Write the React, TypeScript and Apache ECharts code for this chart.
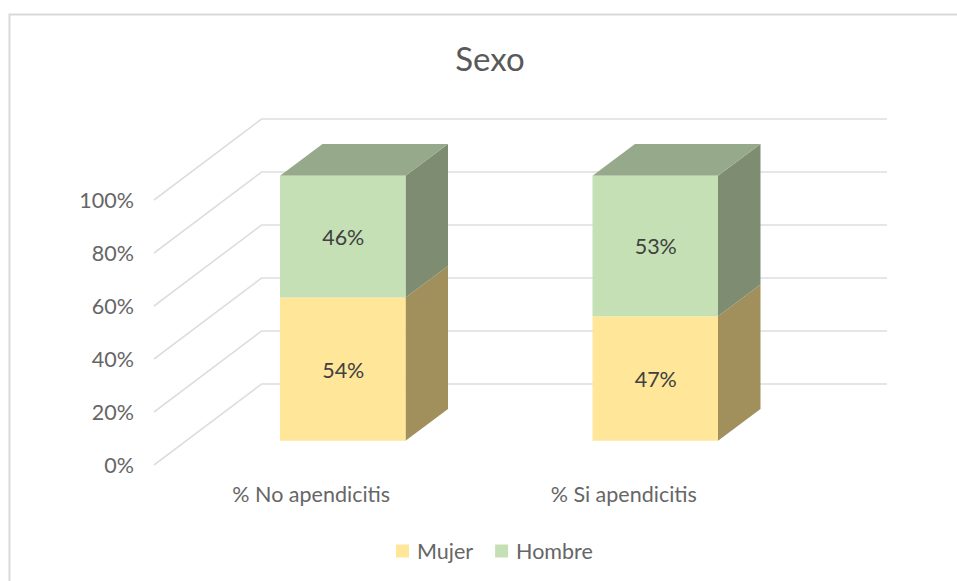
import React, { useEffect, useRef } from "react";
import * as echarts from "echarts";

const FONT = "Lato";
const categories = ["% No apendicitis", "% Si apendicitis"];
const mujer = [54, 47];
const hombre = [46, 53];
const yTicks = [0, 20, 40, 60, 80, 100];

const wallDx = 107.5;
const wallDy = 81;
const wallRight = 887;
const barW = 125.5;
const barShift = 31.5;
const barLift = 24.3;
const depthX = 42.5;
const depthY = 31.7;
const FS = 21.5;

function prismItem(values: number[], bases: number[], front: string, side: string, top: string | null, labelColor: string) {
  return (params: any, api: any) => {
    const i = api.value(0);
    const v = values[i];
    const b = bases[i];
    const cx = api.coord([i, 0])[0] + barShift;
    const y0 = api.coord([i, b])[1] - barLift;
    const y1 = api.coord([i, b + v])[1] - barLift;
    const x0 = cx - barW / 2;
    const x1 = cx + barW / 2;
    const children: any[] = [
      { type: "polygon", shape: { points: [[x1, y0], [x1 + depthX, y0 - depthY], [x1 + depthX, y1 - depthY], [x1, y1]] }, style: { fill: side } },
    ];
    if (top) {
      children.push({ type: "polygon", shape: { points: [[x0, y1], [x0 + depthX, y1 - depthY], [x1 + depthX, y1 - depthY], [x1, y1]] }, style: { fill: top } });
    }
    children.push({ type: "rect", shape: { x: x0, y: y1, width: barW, height: y0 - y1 }, style: { fill: front } });
    children.push({
      type: "text",
      style: { text: v + "%", x: cx + 0.5, y: (y0 + y1) / 2 + 0.5, align: "center", verticalAlign: "middle", fill: labelColor, font: `${FS}px "${FONT}"` },
    });
    return { type: "group", children };
  };
}

function wallItem(params: any, api: any) {
  const t = api.value(1);
  const [x, y] = api.coord([0, t]);
  const left = params.coordSys.x;
  return {
    type: "polyline",
    shape: { points: [[left - 1, y], [left - 1 + wallDx, y - wallDy], [wallRight, y - wallDy]] },
    style: { fill: "none", stroke: "#DEDEDE", lineWidth: 1.6 },
  };
}

export default function App() {
  const ref = useRef<HTMLDivElement>(null);
  useEffect(() => {
    const chart = echarts.init(ref.current!, undefined, { renderer: "svg" });
    const textStyle = { fontFamily: FONT, color: "#666666" };
    chart.setOption({
      animation: false,
      backgroundColor: "#ffffff",
      title: {
        text: "Sexo",
        left: 485,
        top: 36,
        textAlign: "center",
        textStyle: { fontFamily: FONT, fontSize: 33, fontWeight: "normal", color: "#595959" },
      },
      grid: { left: 155, right: 177, top: 200, bottom: 116 },
      xAxis: {
        type: "category",
        data: categories,
        axisLine: { show: false },
        axisTick: { show: false },
        splitLine: { show: false },
        axisLabel: { ...textStyle, fontSize: FS, margin: 18 },
      },
      yAxis: {
        type: "value",
        min: 0,
        max: 100,
        interval: 20,
        axisLine: { show: false },
        axisTick: { show: false },
        splitLine: { show: false },
        axisLabel: { ...textStyle, fontSize: FS, margin: 21, formatter: "{value}%" },
      },
      legend: {
        data: ["Mujer", "Hombre"],
        left: 391,
        top: 535,
        icon: "rect",
        itemWidth: 13,
        itemHeight: 13,
        itemGap: 22,
        textStyle: { ...textStyle, fontSize: FS, padding: [0, 0, 0, 3] },
      },
      graphic: [
        {
          type: "polyline",
          shape: { points: [[9.5, 581], [9.5, 14.5], [957, 14.5]] },
          style: { fill: "none", stroke: "#D9D9D9", lineWidth: 2 },
        },
      ],
      series: [
        {
          type: "custom",
          name: "walls",
          coordinateSystem: "cartesian2d",
          data: yTicks.map((t) => [0, t]),
          encode: { x: 0, y: 1 },
          renderItem: wallItem,
          silent: true,
          z: 1,
        },
        {
          type: "custom",
          name: "Mujer",
          coordinateSystem: "cartesian2d",
          data: mujer.map((v, i) => [i, v]),
          encode: { x: 0, y: 1 },
          itemStyle: { color: "#FFE699" },
          renderItem: prismItem(mujer, [0, 0], "#FFE699", "#A1905C", null, "#404040"),
          z: 2,
        },
        {
          type: "custom",
          name: "Hombre",
          coordinateSystem: "cartesian2d",
          data: hombre.map((v, i) => [i, v]),
          encode: { x: 0, y: 1 },
          itemStyle: { color: "#C5E0B4" },
          renderItem: prismItem(hombre, mujer, "#C5E0B4", "#7E8D72", "#96A98A", "#404040"),
          z: 3,
        },
      ],
    });
    return () => chart.dispose();
  }, []);
  return <div ref={ref} style={{ position: "fixed", left: 0, top: 0, width: 957, height: 581 }} />;
}
